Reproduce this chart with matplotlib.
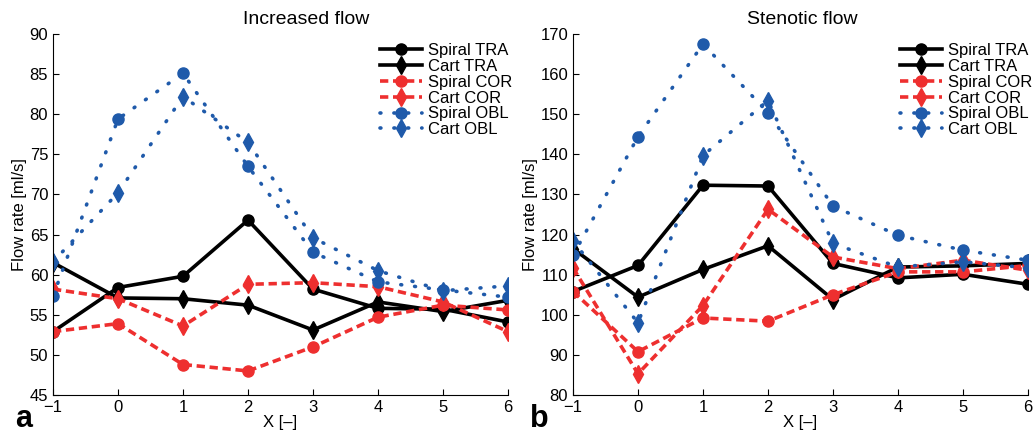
import numpy as np
import matplotlib
matplotlib.use("Agg")
import matplotlib.pyplot as plt

plt.rcParams['font.family'] = ['Liberation Sans', 'DejaVu Sans']

x = [-1, 0, 1, 2, 3, 4, 5, 6]

# panel a: increased flow
inc_spiral_tra = [52.9, 58.4, 59.8, 66.8, 58.2, 55.8, 55.7, 54.1]
inc_cart_tra = [61.5, 57.1, 57.0, 56.2, 53.1, 56.6, 55.4, 56.8]
inc_spiral_cor = [52.9, 53.9, 48.8, 48.0, 51.0, 54.7, 56.2, 55.6]
inc_cart_cor = [58.2, 57.0, 53.6, 58.8, 59.0, 58.5, 56.6, 52.9]
inc_spiral_obl = [57.3, 79.4, 85.1, 73.5, 62.8, 59.1, 58.1, 57.2]
inc_cart_obl = [61.6, 70.2, 82.2, 76.5, 64.6, 60.5, 58.0, 58.6]

# panel b: stenotic flow
ste_spiral_tra = [105.8, 112.3, 132.3, 132.1, 112.8, 109.2, 110.1, 107.6]
ste_cart_tra = [116.5, 104.4, 111.3, 117.2, 103.8, 111.9, 112.2, 112.8]
ste_spiral_cor = [105.8, 90.8, 99.2, 98.4, 105.0, 110.7, 110.7, 112.3]
ste_cart_cor = [111.7, 85.3, 102.3, 126.3, 114.4, 111.5, 113.6, 111.1]
ste_spiral_obl = [114.8, 144.4, 167.5, 150.4, 127.1, 119.8, 116.1, 113.6]
ste_cart_obl = [118.4, 98.0, 139.7, 153.4, 117.8, 111.9, 113.2, 111.7]

labels = ["Spiral TRA", "Cart TRA", "Spiral COR", "Cart COR", "Spiral OBL", "Cart OBL"]

RED = "#ee2f2f"
BLUE = "#1f5aaa"
dotted = (0, (0.25, 3.6))
dashed = (0, (2.3, 1.3))
styles = [
    dict(color="black", ls="-", marker="o", ms=8),
    dict(color="black", ls="-", marker="d", ms=9),
    dict(color=RED, ls=dashed, marker="o", ms=8),
    dict(color=RED, ls=dashed, marker="d", ms=9),
    dict(color=BLUE, ls=dotted, marker="o", ms=8, dash_capstyle="round"),
    dict(color=BLUE, ls=dotted, marker="d", ms=9, dash_capstyle="round"),
]

fig = plt.figure(figsize=(10.33, 4.34), dpi=100)
ax_a = fig.add_axes([53 / 1033, 1 - 395 / 434, 455 / 1033, 361 / 434])
ax_b = fig.add_axes([573 / 1033, 1 - 395 / 434, 455 / 1033, 361 / 434])


def draw(ax, series, title, title_x, ylim, yticks, ylab_x, letter, letter_x):
    for vals, lab, st in zip(series, labels, styles):
        ax.plot(x, vals, label=lab, lw=2.6, **st)
    ax.set_xlim(-1, 6)
    ax.set_ylim(*ylim)
    ax.set_xticks(x)
    ax.set_xticklabels(["\u22121"] + [str(v) for v in x[1:]])
    ax.set_yticks(yticks)
    ax.tick_params(direction="in", length=4, labelsize=12, width=0.8)
    for s in ["top", "right"]:
        ax.spines[s].set_visible(False)
    ax.set_title(title, fontsize=14, x=title_x, pad=7)
    ax.set_ylabel("Flow rate [ml/s]", fontsize=12)
    ax.yaxis.set_label_coords(ylab_x, 0.5)
    ax.set_xlabel("X [\u2013]", fontsize=12)
    ax.xaxis.set_label_coords(0.5, -0.055)
    ax.legend(loc="upper left", bbox_to_anchor=(0.719, 0.975), frameon=False,
              fontsize=12, handlelength=2.5, handletextpad=0.4,
              labelspacing=0.05, borderpad=0, borderaxespad=0)
    fig.text(letter_x, 1 - 419 / 434, letter, fontsize=22, fontweight="bold",
             va="center", ha="left")


draw(ax_a, [inc_spiral_tra, inc_cart_tra, inc_spiral_cor, inc_cart_cor,
            inc_spiral_obl, inc_cart_obl],
     "Increased flow", 0.556, (45, 90), np.arange(45, 91, 5), -0.057, "a", 15 / 1033)
draw(ax_b, [ste_spiral_tra, ste_cart_tra, ste_spiral_cor, ste_cart_cor,
            ste_spiral_obl, ste_cart_obl],
     "Stenotic flow", 0.503, (80, 170), np.arange(80, 171, 10), -0.077, "b", 530 / 1033)

fig.savefig("out.png", dpi=100)
